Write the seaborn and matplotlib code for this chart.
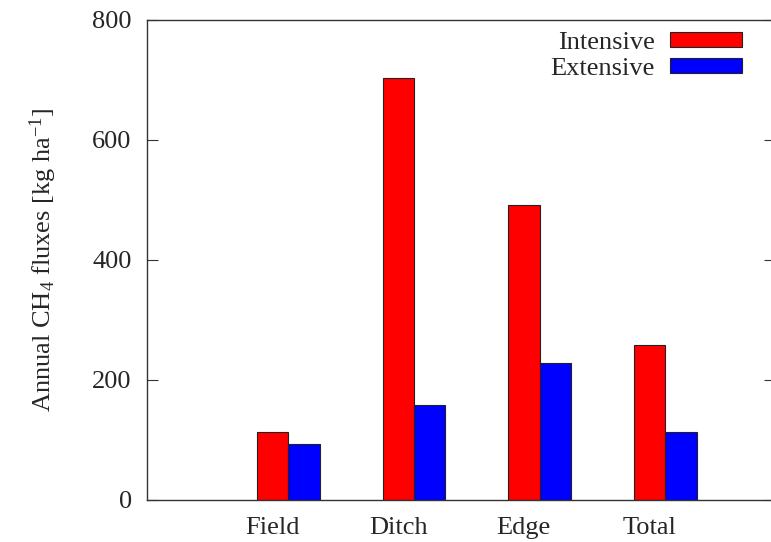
import numpy as np
import pandas as pd
import matplotlib
matplotlib.use("Agg")
import matplotlib.pyplot as plt
import seaborn as sns

categories = ["Field", "Ditch", "Edge", "Total"]
intensive = [113, 704, 492, 259]
extensive = [93, 159, 228, 114]
series_names = ["Intensive", "Extensive"]
yticks = [0, 200, 400, 600, 800]

sns.set_style("white")
plt.rcParams["font.family"] = ["Liberation Serif", "DejaVu Serif"]
plt.rcParams["mathtext.fontset"] = "custom"
plt.rcParams["mathtext.rm"] = "Liberation Serif"
plt.rcParams["mathtext.it"] = "Liberation Serif:italic"

df = pd.DataFrame({
    "cat": categories * 2,
    "series": [series_names[0]] * 4 + [series_names[1]] * 4,
    "value": intensive + extensive,
})

fig = plt.figure(figsize=(7.71, 5.42), dpi=100)
ax = fig.add_axes([147 / 771, 42 / 542, 628 / 771, 480 / 542])

sns.barplot(data=df, x="cat", y="value", hue="series", order=categories,
            hue_order=series_names, palette=["#ff0000", "#0000ff"],
            width=0.5, gap=0, edgecolor="#222222", linewidth=0.8,
            saturation=1, ax=ax, legend=True)

fs = 19
ax.set_xlim(-1.125, 3.875)
ax.set_ylim(0, 800)
ax.set_xticks(np.arange(len(categories)) - 0.125)
ax.set_xticklabels(categories, fontsize=fs)
ax.set_yticks(yticks)
ax.set_yticklabels([str(v) for v in yticks], fontsize=fs)
ax.tick_params(axis="y", direction="in", length=8, width=0.8, left=True, right=True, pad=11, color="#333333")
ax.tick_params(axis="x", length=0, pad=12)
ax.set_xlabel("")
ax.set_ylabel(r"Annual CH$_4$ fluxes [kg ha$^{-1}$]", fontsize=19, labelpad=24)
for s in ax.spines.values():
    s.set_visible(True)
    s.set_linewidth(1.0)
    s.set_color("#333333")

handles, labels = ax.get_legend_handles_labels()
ax.legend(handles, labels, loc="upper right", bbox_to_anchor=(0.964, 0.997),
          frameon=False, markerfirst=False,
          fontsize=fs, handlelength=2.73, handleheight=0.49, labelspacing=0.16,
          handletextpad=0.57, borderaxespad=0)

fig.savefig("out.png", dpi=100)
